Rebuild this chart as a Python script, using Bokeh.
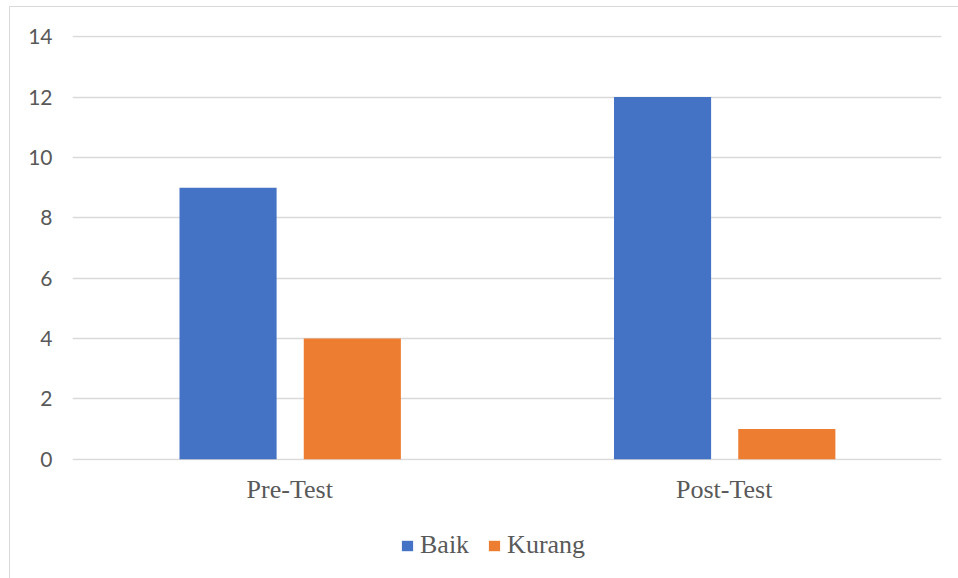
from bokeh.plotting import figure
from bokeh.layouts import column
from bokeh.models import ColumnDataSource, Legend, LegendItem, FactorRange, Range1d
from bokeh.transform import dodge
from bokeh.embed import file_html
from bokeh.resources import INLINE

categories = ["Pre-Test", "Post-Test"]
series = ["Baik", "Kurang"]
colors = ["#4472C4", "#ED7D31"]
baik = [9, 12]
kurang = [4, 1]
y_ticks = [0, 2, 4, 6, 8, 10, 12, 14]

source = ColumnDataSource(data=dict(cat=categories, baik=baik, kurang=kurang))

p = figure(
    x_range=FactorRange(*categories, range_padding=0),
    y_range=(-0.04, 14.04),
    width=948, height=508,
    output_backend="svg", toolbar_location=None,
    min_border_left=62, min_border_right=17, min_border_top=28, min_border_bottom=55,
)

r1 = p.vbar(x=dodge("cat", -0.142, range=p.x_range), top="baik", width=0.2235,
            source=source, color=colors[0], line_color=None)
r2 = p.vbar(x=dodge("cat", 0.144, range=p.x_range), top="kurang", width=0.2235,
            source=source, color=colors[1], line_color=None)

p.outline_line_color = None
p.xgrid.grid_line_color = None
p.ygrid.grid_line_color = "#d9d9d9"
p.ygrid.grid_line_width = 1.3
p.yaxis.ticker = y_ticks

for ax in (p.xaxis, p.yaxis):
    ax.axis_line_color = None
    ax.major_tick_line_color = None
    ax.minor_tick_line_color = None
    ax.major_tick_out = 0
    ax.major_label_text_color = "#595959"

p.yaxis.major_label_text_font = "Lato"
p.yaxis.major_label_text_font_size = "21px"
p.yaxis.major_label_standoff = 20

p.xaxis.major_label_text_font = "Liberation Serif"
p.xaxis.major_label_text_font_size = "26px"
p.xaxis.major_label_standoff = 14

# legend strip below the chart (its renderers are hidden; only the legend shows)
p2 = figure(width=948, height=63, x_range=p.x_range, y_range=Range1d(0, 14),
            output_backend="svg", toolbar_location=None,
            x_axis_type=None, y_axis_type=None, min_border=0)
p2.outline_line_color = None
p2.grid.visible = False
l1 = p2.vbar(x=dodge("cat", -0.142, range=p.x_range), top="baik", width=0.2235,
             source=source, color=colors[0], line_color=None, visible=False)
l2 = p2.vbar(x=dodge("cat", 0.144, range=p.x_range), top="kurang", width=0.2235,
             source=source, color=colors[1], line_color=None, visible=False)

legend = Legend(
    items=[LegendItem(label=series[0], renderers=[l1]), LegendItem(label=series[1], renderers=[l2])],
    orientation="horizontal",
    location=(328, 18),
    glyph_width=14, glyph_height=13,
    label_standoff=6, spacing=18,
    label_text_font="Liberation Serif", label_text_font_size="26px",
    label_text_color="#595959",
    border_line_color=None, background_fill_alpha=0,
    inactive_fill_alpha=0,
    padding=0, margin=0,
)
p2.add_layout(legend, "center")

layout = column(p, p2, spacing=0)
layout.styles = {"border-top": "1px solid #d9d9d9", "border-left": "1px solid #d9d9d9",
                 "margin-top": "6px", "margin-left": "9px"}

open("out.html", "w").write(file_html(layout, INLINE))
